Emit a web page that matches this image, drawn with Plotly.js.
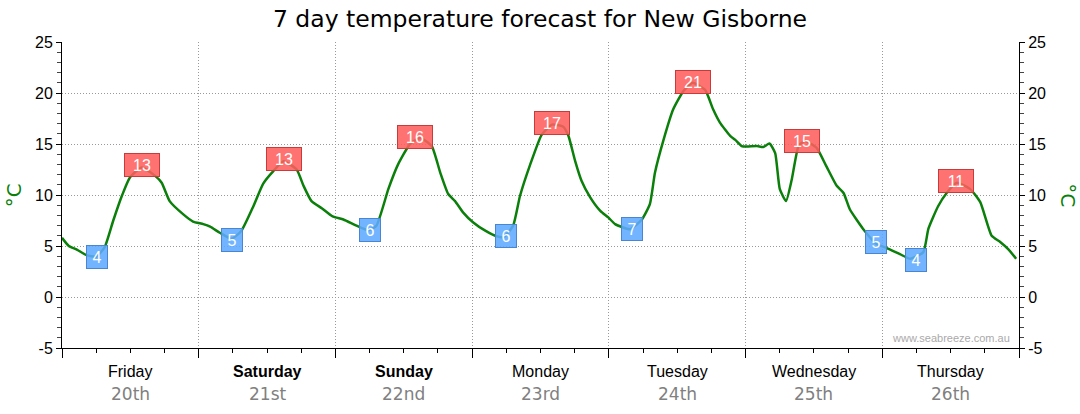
<!DOCTYPE html>
<html>
<head>
<meta charset="utf-8">
<script src="https://cdn.plot.ly/plotly-3.0.1.min.js"></script>
<style>html,body{margin:0;padding:0;background:#fff;}#chart{width:1080px;height:414px;}</style>
</head>
<body>
<div id="chart"></div>
<script>
// Hours since start of Friday 20th, and temperature (°C)
var hours = [0,1.2,2.6,4.3,6,7.5,9,10.5,11.9,14,16.3,17.5,18.9,21.3,23,24.8,26,27.7,29.8,31.5,33.6,35.3,37.1,38.9,41.2,42.4,43.8,45.6,47.5,49.4,51.7,53.8,55.2,57.3,59,61.1,62.9,64.9,66.4,67.8,69,70.4,72.2,74.3,76.3,77.6,79.2,80.4,82.2,84.2,86,88,88.9,90.1,91.2,92.7,94.5,95.9,97.1,99.7,101.8,103.2,104.1,105.6,107.3,109.1,110.7,112.9,114.3,115.5,117.3,118.2,119.3,120.2,122,123.1,124.2,125.2,126,127.1,128.1,129.3,130.4,132.5,134.2,136,137.2,138.3,140.6,143,144.8,147.1,148.9,151.2,152.1,153.8,155.3,157.1,159.4,161.2,163.2,164.7,166.1,167.5];
var temps = [5.8,5.0,4.65,4.1,3.95,4.9,7.5,9.9,11.7,12.7,11.9,11.2,9.4,8.1,7.4,7.15,6.9,6.3,5.7,6.5,8.9,11.1,12.35,13.3,12.5,10.9,9.4,8.7,7.9,7.6,7.0,6.55,7.0,10.6,13.0,15.0,15.6,14.8,12.2,10.1,9.4,8.3,7.3,6.5,5.95,5.9,7.0,9.9,13.0,15.9,16.9,16.7,15.8,13.3,11.4,9.8,8.45,7.8,7.15,6.65,7.6,9.1,12.2,15.4,18.4,20.2,21.0,20.3,18.4,17.1,15.8,15.4,14.8,14.75,14.8,14.7,15.05,14.1,10.6,9.4,11.5,14.8,15.3,14.6,12.8,10.9,10.2,8.6,6.7,5.2,4.8,4.2,3.75,4.4,6.7,8.9,10.2,11.2,10.6,9.3,6.0,5.4,4.7,3.75];

// Daily maximum labels
var maxHours = [14.0,38.9,62.0,86.0,110.8,129.9,157.0];
var maxTemps = [12.95,13.5,15.7,17.1,21.1,15.3,11.4];
var maxText  = ["13","13","16","17","21","15","11"];
// Daily minimum labels
var minHours = [6.1,29.8,54.1,77.9,100.0,142.9,149.9];
var minTemps = [3.96,5.6,6.57,5.95,6.66,5.37,3.64];
var minText  = ["4","5","6","6","7","5","4"];

// Day labels
var dayNames = ["Friday","Saturday","Sunday","Monday","Tuesday","Wednesday","Thursday"];
var dayDates = ["20th","21st","22nd","23rd","24th","25th","26th"];
var weekend  = [false,true,true,false,false,false,false];
var dayTicks = [0,24,48,72,96,120,144,168];

// Y axis ticks
var yTickVals = [-5,0,5,10,15,20,25];
var yTickText = ["-5","0","5","10","15","20","25"];
var yGridVals = [0,5,10,15,20];

var green = "#0a7f0a";
var tickFont = {family:"Liberation Sans, Arial, sans-serif", size:16, color:"#000"};
var gridDash = "1px,2px";

var traces = [
  {x:hours, y:temps, type:"scatter", mode:"lines", line:{color:green, width:2.5, shape:"spline", smoothing:0.5}, hoverinfo:"x+y", yaxis:"y"},
  {x:hours, y:temps, type:"scatter", mode:"lines", line:{color:"rgba(0,0,0,0)", width:0}, hoverinfo:"skip", yaxis:"y2"},
  {x:hours, y:temps, type:"scatter", mode:"lines", line:{color:"rgba(0,0,0,0)", width:0}, hoverinfo:"skip", yaxis:"y3"}
];

var annotations = [];
for (var i = 0; i < maxHours.length; i++) {
  annotations.push({x:maxHours[i], y:maxTemps[i], xref:"x", yref:"y", text:maxText[i], showarrow:false,
    bgcolor:"rgba(255,95,95,0.88)", bordercolor:"#c93a3a", borderwidth:1, borderpad:2, width:30, height:18,
    font:{family:"Liberation Sans, Arial, sans-serif", size:16, color:"#fff"}});
}
for (var j = 0; j < minHours.length; j++) {
  annotations.push({x:minHours[j], y:minTemps[j], xref:"x", yref:"y", text:minText[j], showarrow:false,
    bgcolor:"rgba(95,170,255,0.88)", bordercolor:"#4a86d0", borderwidth:1, borderpad:2, width:16, height:18,
    font:{family:"Liberation Sans, Arial, sans-serif", size:16, color:"#fff"}});
}
for (var k = 0; k < dayNames.length; k++) {
  var c = (dayTicks[k] + dayTicks[k+1]) / 2;
  annotations.push({x:c, y:-0.078, xref:"x", yref:"paper", yanchor:"middle", showarrow:false,
    text: weekend[k] ? "<b>" + dayNames[k] + "</b>" : dayNames[k],
    font:{family:"Liberation Sans, Arial, sans-serif", size:16, color:"#000"}});
  annotations.push({x:c, y:-0.15, xref:"x", yref:"paper", yanchor:"middle", showarrow:false,
    text: dayDates[k], font:{family:"DejaVu Sans, Verdana, sans-serif", size:17, color:"#808080"}});
}
annotations.push({x:-0.05, y:0.5, xref:"paper", yref:"paper", showarrow:false, textangle:-90, xanchor:"center", yanchor:"middle",
  text:"°C", font:{family:"DejaVu Sans, sans-serif", size:20, color:green}});
annotations.push({x:1.051, y:0.5, xref:"paper", yref:"paper", showarrow:false, textangle:90, xanchor:"center", yanchor:"middle",
  text:"°C", font:{family:"DejaVu Sans, sans-serif", size:20, color:green}});
annotations.push({x:0.9927, y:0.033, xref:"paper", yref:"paper", xanchor:"right", yanchor:"middle", showarrow:false,
  text:"www.seabreeze.com.au", font:{family:"Liberation Sans, Arial, sans-serif", size:11, color:"#aaa"}});

var yCommon = {range:[-5,25], tickmode:"array", tickvals:yTickVals, ticktext:yTickText, ticks:"outside", ticklen:5, tickcolor:"#000", tickwidth:1,
  showline:true, linecolor:"#000", linewidth:1, zeroline:false, tickfont:tickFont, fixedrange:true, showgrid:false,
  minor:{dtick:1, tick0:0, ticks:"outside", ticklen:4, tickcolor:"#444", showgrid:false}};

var layout = {
  width:1080, height:414,
  margin:{l:62, r:61, t:42, b:66, pad:0},
  paper_bgcolor:"#fff", plot_bgcolor:"#fff",
  showlegend:false,
  title:{text:"7 day temperature forecast for New Gisborne", x:0.5, xanchor:"center", y:0.955, yanchor:"middle", yref:"container",
    font:{family:"DejaVu Sans, Verdana, sans-serif", size:23.5, color:"#000"}},
  xaxis:{range:[0,168], tickvals:dayTicks, ticks:"outside", ticklen:9, tickcolor:"#000", showticklabels:false,
    showgrid:true, gridcolor:"#999", griddash:gridDash, gridwidth:1, showline:true, linecolor:"#000", zeroline:false, fixedrange:true,
    minor:{dtick:6, tick0:0, ticks:"outside", ticklen:4, tickcolor:"#000", showgrid:false}},
  yaxis:Object.assign({}, yCommon, {side:"left"}),
  yaxis2:Object.assign({}, yCommon, {side:"right", overlaying:"y", anchor:"x"}),
  yaxis3:{range:[-5,25], overlaying:"y", anchor:"x", side:"left", tickmode:"array", tickvals:yGridVals, showticklabels:false, ticks:"",
    showline:false, zeroline:false, showgrid:true, gridcolor:"#999", griddash:gridDash, gridwidth:1, fixedrange:true},
  annotations:annotations
};

Plotly.newPlot("chart", traces, layout, {displayModeBar:false, staticPlot:true});
</script>
</body>
</html>
